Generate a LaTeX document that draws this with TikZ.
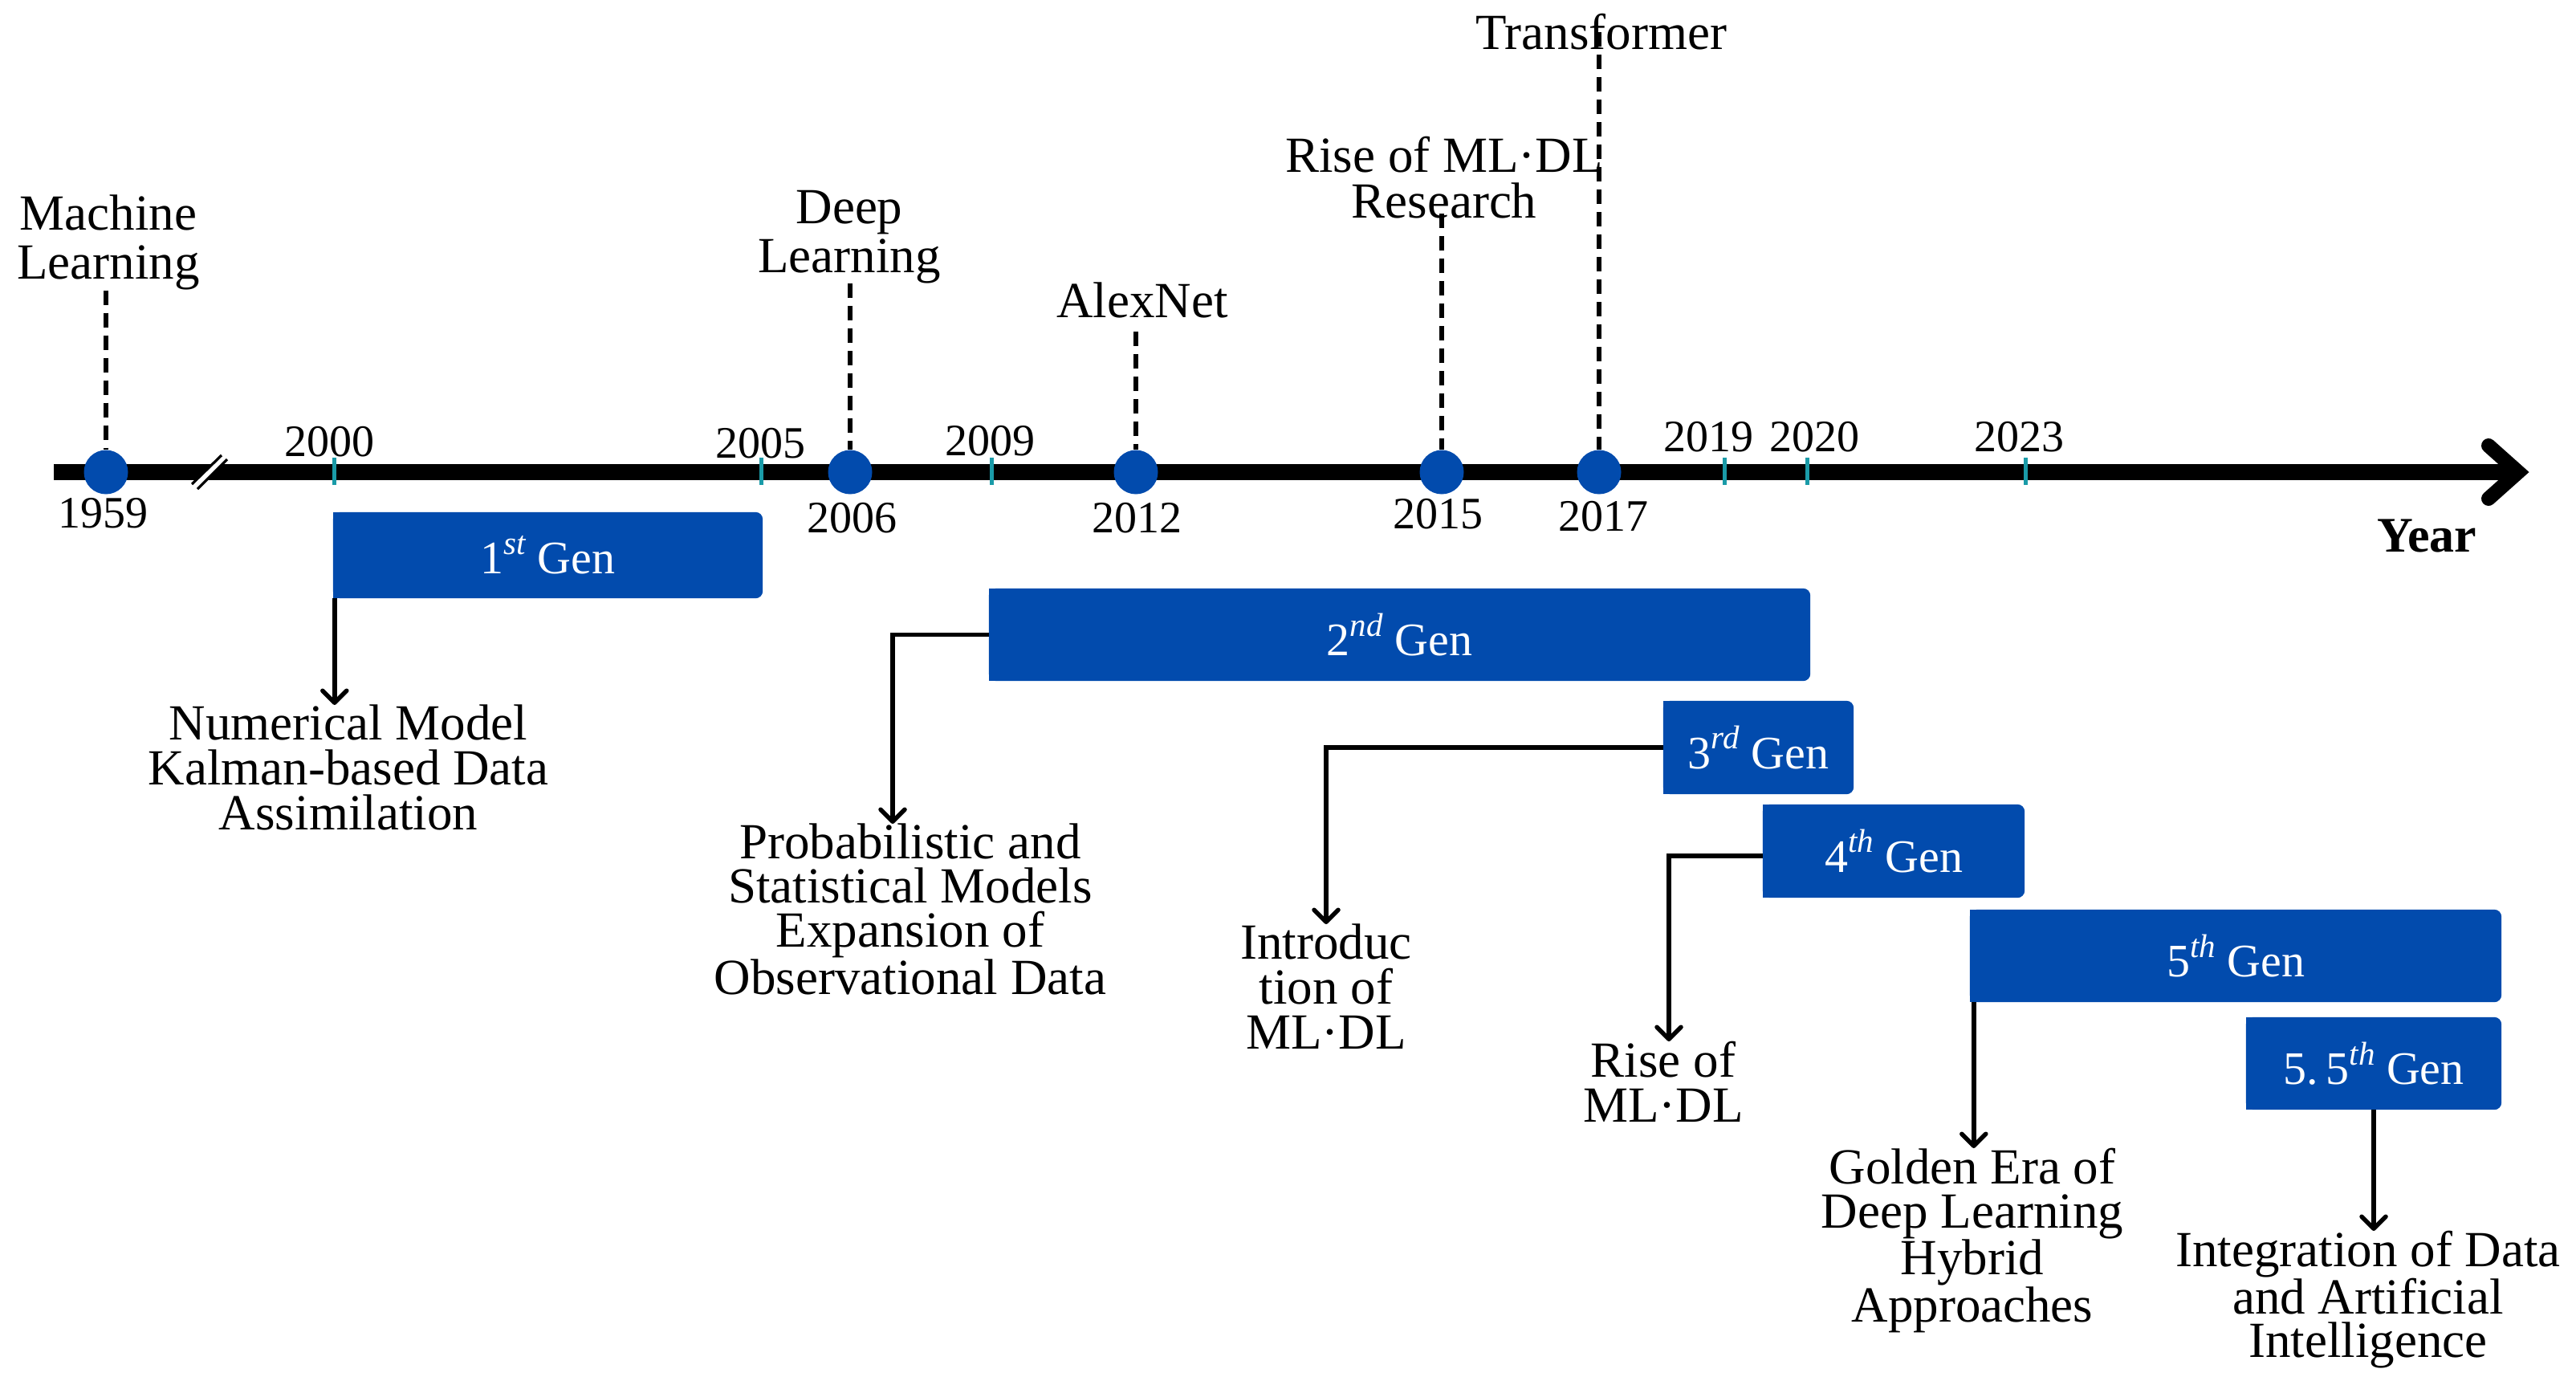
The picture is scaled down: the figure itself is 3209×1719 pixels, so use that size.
\documentclass[tikz,border=0pt]{standalone}
\usepackage{fontspec}
\setmainfont{Liberation Serif}
\usetikzlibrary{arrows.meta}
\definecolor{genblue}{RGB}{2,75,173}
\definecolor{tickteal}{RGB}{26,155,168}
\newcommand{\gsup}[1]{\raisebox{0.42em}{\fontsize{41}{42}\selectfont\itshape #1}}
\pgfdeclarelayer{bg}
\pgfsetlayers{bg,main}
\begin{document}
\begin{tikzpicture}[x=1pt,y=-1pt,
  lbl/.style={align=center,inner sep=0pt,anchor=north},
  yr/.style={inner sep=0pt,anchor=base,font=\fontsize{56}{60}\selectfont},
  gen/.style={inner sep=0pt,text=white,font=\fontsize{58}{60}\selectfont},
  dot/.style={circle,fill=genblue,minimum size=55pt,inner sep=0pt},
  dashline/.style={line width=5.5pt,dash pattern=on 18pt off 10pt},
  conn/.style={line width=5.5pt,-{Straight Barb[length=15pt,width=30pt,round]}},
  tick/.style={draw=tickteal,line width=5pt}]
\useasboundingbox (0,0) rectangle (3209,1719);

% axis
\draw[line width=20pt] (67,588) -- (3140,588);
\draw[line width=18pt,line cap=round,line join=miter] (3100,555) -- (3137,588) -- (3100,621);
% break
\draw[white,line width=7pt] (242.5,606) -- (279.5,569.5);
\draw[line width=3.2pt] (239,603) -- (276,567);
\draw[line width=3.2pt] (246,609) -- (283,572);

% ticks
\foreach \n/\x in {2000/416,2005/948,2009/1235,2019/2148,2020/2251,2023/2523}{
  \coordinate (t\n) at (\x,588);
  \draw[tick] (\x,570) -- (\x,604);
}

% year labels above
\node[yr] (y2000) at (410,568) {2000};
\node[yr] (y2005) at (947,570) {2005};
\node[yr] (y2009) at (1233,567) {2009};
\node[yr] (y2019) at (2128,562) {2019};
\node[yr] (y2020) at (2260,562) {2020};
\node[yr] (y2023) at (2515,562) {2023};

% event dots
\node[dot] (c1959) at (132,588) {};
\node[dot] (c2006) at (1059,588) {};
\node[dot] (c2012) at (1415,588) {};
\node[dot] (c2015) at (1796,588) {};
\node[dot] (c2017) at (1992,588) {};

% year labels below
\node[yr] (y1959) at (128,657) {1959};
\node[yr] (y2006) at (1061,663) {2006};
\node[yr] (y2012) at (1416,663) {2012};
\node[yr] (y2015) at (1791,658) {2015};
\node[yr] (y2017) at (1997,661) {2017};

\node[inner sep=0pt,anchor=base,font=\fontsize{62}{66}\selectfont\bfseries] (year) at (3023,687) {Year};

% event labels
\node[lbl,font=\fontsize{63}{61}\selectfont] (lml) at (135,243) {Machine\\Learning};
\node[lbl,font=\fontsize{63}{61}\selectfont] (ldl) at (1058,237) {Deep\\Learning};
\node[lbl,font=\fontsize{63}{57}\selectfont] (lalex) at (1423,352) {AlexNet};
\node[lbl,font=\fontsize{63}{57}\selectfont] (lrise) at (1799,170) {Rise of ML·DL\\Research};
\node[lbl,font=\fontsize{63}{57}\selectfont] (ltrans) at (1995,17) {Transformer};

\draw[dashline] (c1959 |- lml.south) -- (c1959.north);
\draw[dashline] (c2006 |- ldl.south) -- (c2006.north);
\draw[dashline] ([yshift=147pt]c2012.north) -- (c2012.north);
\draw[dashline] ([yshift=6pt]c2015 |- lrise.south) -- (c2015.north);
\draw[dashline] ([yshift=22pt]c2017 |- ltrans.south) -- (c2017.north);

% generation boxes
\node[gen,minimum width=535pt,minimum height=107pt] (g1) at (682.5,691.5) {1\gsup{st} Gen};
\node[gen,minimum width=1023pt,minimum height=115pt] (g2) at (1743.5,790.5) {2\gsup{nd} Gen};
\node[gen,minimum width=237pt,minimum height=116pt] (g3) at (2190.5,931) {3\gsup{rd} Gen};
\node[gen,minimum width=326pt,minimum height=116pt] (g4) at (2359,1060) {4\gsup{th} Gen};
\node[gen,minimum width=662pt,minimum height=115pt] (g5) at (2785,1190.5) {5\gsup{th} Gen};
\node[gen,minimum width=318pt,minimum height=115pt] (g55) at (2957,1324.5) {5.\,5\gsup{th} Gen};
\begin{pgfonlayer}{bg}
\foreach \g in {g1,g2,g3,g4,g5,g55}{
  \fill[genblue,rounded corners=9pt] (\g.north west) rectangle (\g.south east);
  \fill[genblue] (\g.north west) rectangle ([xshift=30pt]\g.south west);
}
\end{pgfonlayer}

% descriptions
\node[lbl,font=\fontsize{63}{56}\selectfont] (t1) at (434,878) {Numerical Model\\Kalman-based Data\\Assimilation};
\node[lbl,font=\fontsize{63}{55}\selectfont] (t2) at (1134,1026) {Probabilistic and\\Statistical Models\\Expansion of\\Observational Data};
\node[lbl,font=\fontsize{63}{56}\selectfont] (t3) at (1652,1151) {Introduc\\tion of\\ML·DL};
\node[lbl,font=\fontsize{63}{56}\selectfont] (t4) at (2072,1297) {Rise of\\ML·DL};
\node[lbl,font=\fontsize{63}{55}\selectfont] (t5) at (2457,1430) {Golden Era of\\Deep Learning\\Hybrid\\Approaches};
\node[lbl,font=\fontsize{63}{54}\selectfont] (t6) at (2950,1533) {Integration of Data\\and Artificial\\Intelligence};

% connectors
\draw[conn] ([xshift=2pt]g1.south west) -- ([xshift=2pt]g1.south west |- t1.north);
\draw[conn] (g2.west) -| ([xshift=-22pt]t2.north);
\draw[conn] (g3.west) -| (t3.north);
\draw[conn] ([yshift=-6pt]g4.west) -| ([xshift=7pt]t4.north);
\draw[conn] ([xshift=5pt]g5.south west) -- ([xshift=5pt]g5.south west |- t5.north);
\draw[conn] (g55.south) -- (g55.south |- t6.north);
\end{tikzpicture}
\end{document}
